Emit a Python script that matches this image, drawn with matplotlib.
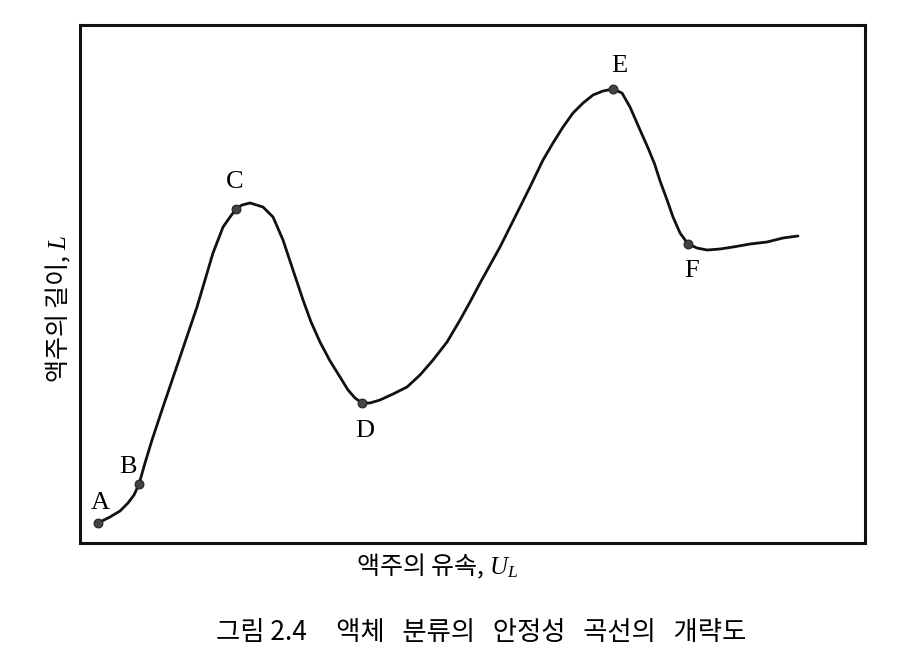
import matplotlib
matplotlib.use('Agg')
import matplotlib.pyplot as plt

# curve (arbitrary units, 0-100 on both axes)
curve_x = [2.29, 3.82, 5.10, 6.11, 6.88, 7.52, 8.28, 9.17, 10.57, 12.74, 14.90,
           16.94, 18.22, 19.11, 19.87, 20.64, 21.66, 23.31, 24.59, 25.86, 27.13,
           28.41, 29.43, 30.57, 31.85, 33.12, 34.14, 35.03, 35.92, 36.94, 38.22,
           39.87, 41.66, 43.31, 44.97, 46.75, 48.41, 49.68, 50.96, 53.50, 55.67,
           57.32, 58.98, 60.25, 61.53, 62.80, 64.08, 65.35, 66.62, 67.90, 69.04,
           70.06, 71.34, 72.36, 73.19, 73.89, 74.78, 75.54, 76.43, 77.45, 78.60,
           79.87, 81.53, 83.18, 85.35, 87.52, 89.55, 91.46]
curve_y = [3.86, 5.02, 6.18, 7.72, 9.27, 11.39, 15.44, 19.88, 26.25, 35.91, 45.56,
           55.98, 61.00, 62.93, 64.48, 65.25, 65.64, 64.86, 62.93, 58.49, 52.70,
           46.91, 42.66, 38.80, 35.14, 32.05, 29.54, 27.99, 27.03, 27.03, 27.61,
           28.76, 30.12, 32.43, 35.33, 38.80, 43.05, 46.53, 50.19, 57.14, 63.71,
           68.73, 73.94, 77.22, 80.31, 83.01, 84.94, 86.49, 87.26, 87.64, 86.87,
           84.17, 79.73, 76.25, 73.17, 69.88, 66.22, 62.93, 59.85, 57.72, 56.95,
           56.56, 56.76, 57.14, 57.72, 58.11, 58.88, 59.27]

point_names = ['A', 'B', 'C', 'D', 'E', 'F']
point_x = [2.29, 7.52, 19.87, 35.92, 67.90, 77.45]
point_y = [3.86, 11.39, 64.48, 27.03, 87.64, 57.72]

x_label = r'액주의 유속, $U_L$'
y_label = r'액주의 길이, $L$'
caption = '그림 2.4     액체   분류의   안정성   곡선의   개략도'

plt.rcParams['font.family'] = ['Noto Sans CJK KR', 'DejaVu Sans']
plt.rcParams['mathtext.fontset'] = 'custom'
plt.rcParams['mathtext.it'] = 'Liberation Serif:italic'
plt.rcParams['mathtext.rm'] = 'Liberation Serif'

fig = plt.figure(figsize=(8.98, 6.51), dpi=100)
ax = fig.add_axes([0.0891, 0.1659, 0.8742, 0.7957])

ax.plot(curve_x, curve_y, color='#111111', lw=2.0, solid_capstyle='round',
        solid_joinstyle='round', zorder=2)
ax.scatter(point_x, point_y, s=40, color='#444444', edgecolors='#222222',
           linewidths=0.8, zorder=3)

# label offsets in pixels from each dot
offsets = {'A': (2, 20), 'B': (-11, 17), 'C': (-1, 27),
           'D': (3, -28), 'E': (6, 23), 'F': (4, -27)}
for name, px, py in zip(point_names, point_x, point_y):
    ax.annotate(name, (px, py), xytext=offsets[name], textcoords='offset pixels',
                ha='center', va='center', fontsize=19, family='Liberation Serif')

ax.set_xlim(0, 100)
ax.set_ylim(0, 100)
ax.set_xticks([])
ax.set_yticks([])
for sp in ax.spines.values():
    sp.set_linewidth(2.2)
    sp.set_color('#111111')

fig.text(437 / 898, 1 - 566 / 651, x_label, ha='center', va='center', fontsize=18)
fig.text(58 / 898, 1 - 309 / 651, y_label, ha='center', va='center',
         rotation=90, fontsize=18)
fig.text(481 / 898, 1 - 633 / 651, caption, ha='center', va='center',
         fontsize=19)

fig.savefig('out.png', dpi=100, facecolor='white')
